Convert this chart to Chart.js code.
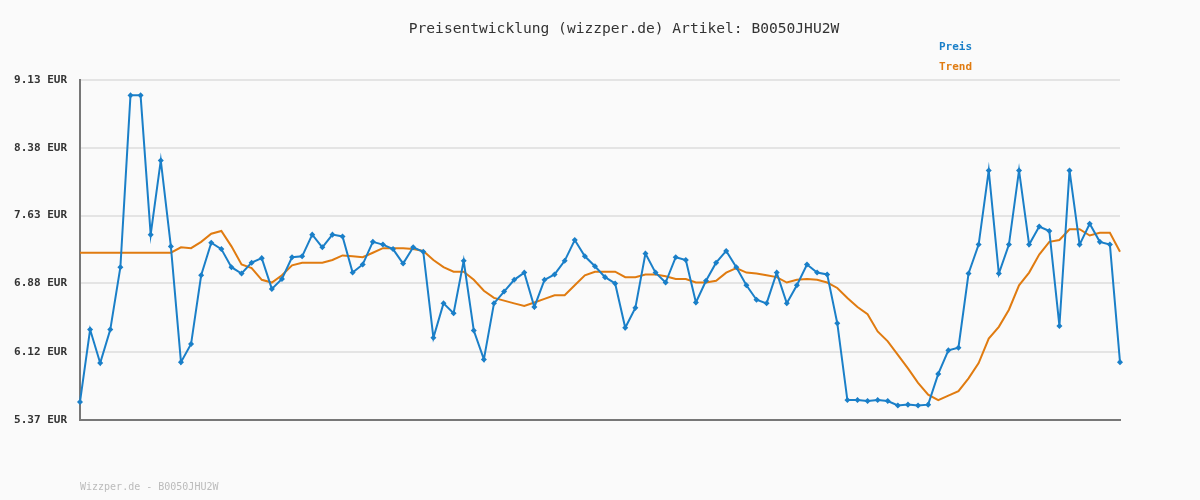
<!DOCTYPE html>
<html><head><meta charset="utf-8">
<script src="https://cdn.jsdelivr.net/npm/chart.js@4"></script>
<style>
body{margin:0;background:#fafafa;font-family:"DejaVu Sans Mono",monospace;}
#wrap{position:relative;width:1200px;height:500px;}
.t{position:absolute;white-space:nowrap;}
</style></head><body>
<div id="wrap">
<canvas id="c" width="1200" height="500"></canvas>
<div class="t" style="left:0;width:1248px;top:19px;text-align:center;font-size:14.6px;color:#333;">Preisentwicklung (wizzper.de) Artikel: B0050JHU2W</div>
<div class="t" style="left:939px;top:40px;font-size:11px;font-weight:bold;color:#1a7fc8;">Preis</div>
<div class="t" style="left:939px;top:60px;font-size:11px;font-weight:bold;color:#e07b10;">Trend</div>
<div class="t" style="left:80px;top:481px;font-size:10px;color:#bbb;">Wizzper.de - B0050JHU2W</div>
</div>
<script>
var preis = [5.57,6.37,6.00,6.37,7.06,8.96,8.96,7.42,8.24,7.29,
  6.01,6.21,6.97,7.33,7.26,7.06,6.99,7.11,7.16,6.82,
  6.93,7.17,7.18,7.42,7.28,7.42,7.40,7.00,7.09,7.34,
  7.31,7.26,7.10,7.28,7.23,6.28,
  6.66,6.55,7.13,6.36,6.04,6.66,6.79,6.92,7.00,6.62,
  6.92,6.98,7.13,7.36,7.18,7.07,6.95,6.88,6.39,6.61,
  7.21,7.00,6.89,7.17,7.14,6.67,6.91,7.11,7.24,7.06,
  6.86,6.70,6.66,7.00,
  6.66,6.86,7.09,7.00,6.98,6.44,5.59,5.59,5.58,5.59,
  5.58,5.53,5.54,5.53,5.54,5.88,6.14,6.17,6.99,7.31,
  8.13,6.99,7.31,8.13,7.31,7.51,7.46,6.41,8.13,7.31,
  7.54,7.34,7.31,6.01];
var trend = [7.22,7.22,7.22,7.22,7.22,7.22,7.22,7.22,7.22,7.22,
  7.28,7.27,7.34,7.43,7.46,7.29,7.09,7.05,6.92,6.89,
  6.97,7.08,7.11,7.11,7.11,7.14,7.19,7.18,7.17,7.22,
  7.27,7.27,7.27,7.26,7.24,
  7.14,7.06,7.01,7.01,6.92,6.80,6.72,6.69,6.66,6.63,
  6.67,6.71,6.75,6.75,6.86,6.97,7.01,7.01,7.01,6.95,
  6.95,6.98,6.98,6.96,6.93,6.93,6.89,6.89,6.91,7.00,
  7.05,7.00,6.99,6.97,6.95,
  6.89,6.92,6.93,6.92,6.89,6.83,6.72,6.62,6.54,6.35,
  6.24,6.09,5.94,5.78,5.65,5.59,5.64,5.69,5.83,6.00,
  6.27,6.40,6.59,6.86,7.00,7.20,7.34,7.36,7.48,7.48,
  7.41,7.44,7.44,7.23];
var yTicks = [5.37,6.12,6.88,7.63,8.38,9.13];
var labels = preis.map(function(v, i) { return i; });

new Chart(document.getElementById('c').getContext('2d'), {
  type: 'line',
  data: {
    labels: labels,
    datasets: [
      { label: 'Trend', data: trend, borderColor: '#e07b10', borderWidth: 2, pointRadius: 0, tension: 0, order: 2 },
      { label: 'Preis', data: preis, borderColor: '#1a7fc8', backgroundColor: '#1a7fc8', borderWidth: 2,
        pointStyle: 'rectRot', pointRadius: 1.6, tension: 0, order: 1 }
    ]
  },
  options: {
    responsive: false, animation: false,
    layout: { padding: { left: 0, top: 80, right: 80, bottom: 72 } },
    plugins: { legend: { display: false }, tooltip: { enabled: false } },
    scales: {
      x: { offset: false, grid: { display: false }, border: { color: '#777', width: 2 },
        ticks: { display: false } },
      y: { min: 5.37, max: 9.13,
        afterBuildTicks: function(s) { s.ticks = yTicks.map(function(v) { return { value: v }; }); },
        afterFit: function(s) { s.width = 80; },
        grid: { color: '#e4e4e4', lineWidth: 2, drawTicks: false },
        border: { color: '#777', width: 2 },
        ticks: { color: '#333', padding: 13, font: { family: 'DejaVu Sans Mono', size: 11, weight: 'bold' },
          callback: function(v) { return v.toFixed(2) + ' EUR'; } } }
    }
  }
});
</script>
</body></html>
